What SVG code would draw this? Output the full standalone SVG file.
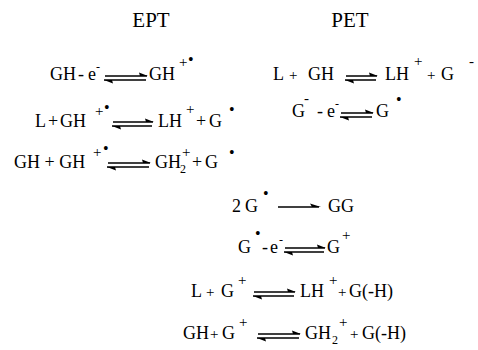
<svg xmlns="http://www.w3.org/2000/svg" width="478" height="350" viewBox="0 0 478 350">
<style>
.t{font-size:21px;}
.m{font-size:18px;}
.p{font-size:15px;}
.s{font-size:15px;}
.b{font-size:16px;}
.xs{font-size:12px;}
.ln{stroke:#000;stroke-width:1.3;fill:none;}
.hd{fill:#000;stroke:none;}
</style>
<rect width="478" height="350" fill="#fff"/>
<g font-family="'Liberation Serif', 'Times New Roman', serif" fill="#000">
<g id="title-ept"><text class="t" x="151" y="27" text-anchor="middle">EPT</text></g>
<g id="title-pet"><text class="t" x="350" y="27" text-anchor="middle">PET</text></g>

<g id="eq1">
<text class="m" x="50" y="80">GH</text>
<text class="m" x="78" y="80">-</text>
<text class="m" x="88" y="80">e</text>
<text class="xs" x="96" y="71">-</text>
<text class="m" x="149" y="80">GH</text>
<text class="s" x="179" y="67">+</text>
<text class="b" x="188" y="65">•</text>
</g>

<g id="eq2">
<text class="m" x="273" y="80">L</text>
<text class="p" x="289" y="80">+</text>
<text class="m" x="308" y="80">GH</text>
<text class="m" x="385" y="80">LH</text>
<text class="s" x="414" y="66">+</text>
<text class="p" x="427" y="80">+</text>
<text class="m" x="441" y="80">G</text>
<text class="s" x="469" y="66">-</text>
</g>

<g id="eq3">
<text class="m" x="292" y="117">G</text>
<text class="s" x="304" y="103">-</text>
<text class="m" x="317" y="117">-</text>
<text class="m" x="327" y="117">e</text>
<text class="xs" x="335" y="108">-</text>
<text class="m" x="376" y="117">G</text>
<text class="b" x="396" y="105">•</text>
</g>

<g id="eq4">
<text class="m" x="35" y="127">L</text>
<text class="m" x="48" y="127">+</text>
<text class="m" x="60" y="127">GH</text>
<text class="s" x="95" y="116">+</text>
<text class="b" x="104" y="113">•</text>
<text class="m" x="158" y="127">LH</text>
<text class="s" x="186" y="114">+</text>
<text class="m" x="196" y="127">+</text>
<text class="m" x="209" y="127">G</text>
<text class="b" x="229" y="115">•</text>
</g>

<g id="eq5">
<text class="m" x="14" y="168">GH + GH</text>
<text class="s" x="93" y="157">+</text>
<text class="b" x="103" y="154">•</text>
<text class="m" x="155" y="168">GH</text>
<text class="xs" x="180" y="173">2</text>
<text class="s" x="182" y="157">+</text>
<text class="m" x="192" y="168">+</text>
<text class="m" x="205" y="168">G</text>
<text class="b" x="229" y="158">•</text>
</g>

<g id="eq6">
<text class="m" x="232" y="212">2</text>
<text class="m" x="245" y="212">G</text>
<text class="b" x="263" y="199">•</text>
<text class="m" x="328" y="212">GG</text>
</g>

<g id="eq7">
<text class="m" x="238" y="253">G</text>
<text class="b" x="255" y="239">•</text>
<text class="m" x="262" y="253">-</text>
<text class="m" x="270" y="253">e</text>
<text class="xs" x="279" y="244">-</text>
<text class="m" x="327" y="253">G</text>
<text class="s" x="342" y="240">+</text>
</g>

<g id="eq8">
<text class="m" x="191" y="297">L</text>
<text class="p" x="206" y="297">+</text>
<text class="m" x="221" y="297">G</text>
<text class="s" x="238" y="285">+</text>
<text class="m" x="300" y="297">LH</text>
<text class="s" x="329" y="285">+</text>
<text class="p" x="338" y="297">+</text>
<text class="m" x="349" y="297">G(-H)</text>
</g>

<g id="eq9">
<text class="m" x="183" y="339">GH</text>
<text class="p" x="210" y="339">+</text>
<text class="m" x="222" y="339">G</text>
<text class="s" x="239" y="327">+</text>
<text class="m" x="305" y="339">GH</text>
<text class="xs" x="332" y="344">2</text>
<text class="s" x="339" y="327">+</text>
<text class="p" x="350" y="339">+</text>
<text class="m" x="362" y="339">G(-H)</text>
</g>
</g>

<g id="connectors">
<path class="ln" d="M105 76H147M104 80H146"/>
<path class="hd" d="M148 76L139 72.5L140 76Z M104 80L113 83.5L112 80Z"/>
<path class="ln" d="M346 76H377M345 80H376"/>
<path class="hd" d="M378 76L369 72.5L370 76Z M345 80L354 83.5L353 80Z"/>
<path class="ln" d="M341 113H373M340 117H372"/>
<path class="hd" d="M374 113L365 109.5L366 113Z M340 117L349 120.5L348 117Z"/>
<path class="ln" d="M113 122H153M112 126H152"/>
<path class="hd" d="M154 122L145 118.5L146 122Z M112 126L121 129.5L120 126Z"/>
<path class="ln" d="M108 163H150M107 167H149"/>
<path class="hd" d="M151 163L142 159.5L143 163Z M107 167L116 170.5L115 167Z"/>
<path class="ln" d="M278 207H319"/>
<path class="hd" d="M321 207L310 203.5L312 207Z"/>
<path class="ln" d="M285 248H325M284 252H324"/>
<path class="hd" d="M326 248L317 244.5L318 248Z M284 252L293 255.5L292 252Z"/>
<path class="ln" d="M254 292H295M253 296H294"/>
<path class="hd" d="M296 292L287 288.5L288 292Z M253 296L262 299.5L261 296Z"/>
<path class="ln" d="M258 334H300M257 338H299"/>
<path class="hd" d="M301 334L292 330.5L293 334Z M257 338L266 341.5L265 338Z"/>
</g>
</svg>
